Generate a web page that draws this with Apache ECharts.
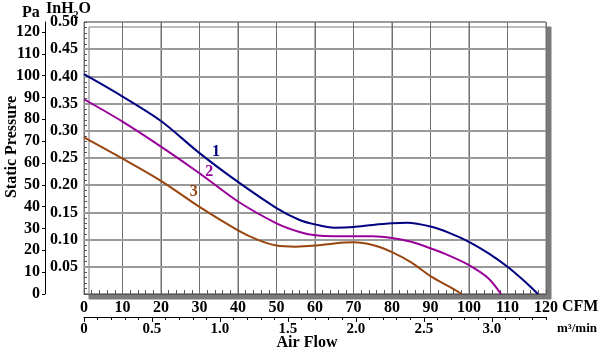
<!DOCTYPE html>
<html>
<head>
<meta charset="utf-8">
<script src="https://cdn.jsdelivr.net/npm/echarts@6/dist/echarts.min.js"></script>
<style>html,body{margin:0;padding:0;background:#fff}#c{width:600px;height:351px}</style>
</head>
<body>
<div id="c"></div>
<script>
// Curve 1 (CFM, inH2O)
const cfm1 = [0, 10, 20, 30, 40, 50, 56, 60, 65, 70, 75, 80, 84, 90, 95, 100, 105, 110, 114, 117.9];
const p1   = [0.404, 0.363, 0.318, 0.259, 0.206, 0.158, 0.136, 0.128, 0.122, 0.123, 0.127, 0.130, 0.131, 0.124, 0.112, 0.096, 0.075, 0.050, 0.026, 0];
// Curve 2
const cfm2 = [0, 10, 20, 30, 40, 50, 56, 60, 65, 70, 75, 80, 85, 90, 95, 100, 105, 108.3];
const p2   = [0.358, 0.317, 0.271, 0.222, 0.170, 0.130, 0.114, 0.108, 0.106, 0.106, 0.106, 0.103, 0.096, 0.084, 0.070, 0.053, 0.029, 0];
// Curve 3
const cfm3 = [0, 10, 20, 30, 40, 45, 50, 55, 60, 65, 70, 75, 80, 85, 90, 95, 98.1];
const p3   = [0.288, 0.249, 0.208, 0.160, 0.117, 0.100, 0.089, 0.087, 0.089, 0.093, 0.095, 0.090, 0.077, 0.058, 0.033, 0.013, 0];
const curveNames = ['1', '2', '3'];
// label anchors (CFM, inH2O)
const labelAt = [[34.3, 0.261], [32.5, 0.224], [28.5, 0.188]];
// tick values used for the inner grid lines
const cfmTicks = [10, 20, 30, 40, 50, 60, 70, 80, 90, 100, 110];
const inTicks = [0.05, 0.10, 0.15, 0.20, 0.25, 0.30, 0.35, 0.40, 0.45];
// axis ranges / steps
const cfmMax = 120, cfmStep = 10, cfmMinor = 2;
const inMax = 0.5, inStep = 0.05, inMinor = 0.01;
const paStep = 10, m3Step = 0.5, m3Minor = 0.1;
const paPerIn = 249.09, m3PerCfm = 0.0283168;

const colors = ['#000080', '#990099', '#99450f'];
const FF = '"Liberation Serif", "Times New Roman", serif';
const pairs = (xs, ys) => xs.map((x, i) => [x, ys[i]]);
const datasets = [pairs(cfm1, p1), pairs(cfm2, p2), pairs(cfm3, p3)];

const chart = echarts.init(document.getElementById('c'), null, {renderer: 'canvas'});
const lbl = (size) => ({fontFamily: FF, fontWeight: 'bold', fontSize: size, color: '#000'});
const noLine = {show: false, onZero: false};
const vStyle = {color: '#707070', width: 1, type: 'solid'};
const hStyle = {color: '#9a9a9a', width: 2, type: 'solid'};

const gridLineSeries = (data, style) => ({
  type: 'line', xAxisIndex: 0, yAxisIndex: 0, data: data, silent: true,
  showSymbol: false, symbol: 'none', z: 1, lineStyle: style, tooltip: {show: false}
});
const vLines = cfmTicks.map(t => gridLineSeries([[t, 0], [t, inMax]], vStyle));
// horizontal grid lines as mark lines at the inH2O tick values
vLines[0].markLine = {
  silent: true, symbol: ['none', 'none'], label: {show: false}, animation: false,
  lineStyle: hStyle,
  data: inTicks.map(t => ({yAxis: t}))
};

chart.setOption({
  animation: false,
  grid: {
    left: 84, top: 22, width: 462, height: 272, z: -1,
    show: true, backgroundColor: '#fff', borderColor: '#777', borderWidth: 1,
    shadowColor: '#7a7a7a', shadowBlur: 0, shadowOffsetX: 5, shadowOffsetY: 5
  },
  xAxis: [
    { // CFM main
      type: 'value', min: 0, max: cfmMax, interval: cfmStep, position: 'bottom',
      axisLine: {show: true, onZero: false, lineStyle: {color: '#555', width: 1}},
      axisTick: {show: false},
      axisLabel: Object.assign({margin: 6}, lbl(16)),
      splitLine: {show: true, lineStyle: vStyle}
    },
    { // m3/min
      type: 'value', min: 0, max: cfmMax * m3PerCfm, interval: m3Step, position: 'bottom', offset: 23,
      axisLine: {show: true, onZero: false, lineStyle: {color: '#000', width: 1}},
      axisTick: {show: true, inside: false, length: 5, lineStyle: {color: '#000'}},
      axisLabel: Object.assign({margin: 5, showMaxLabel: false,
        formatter: v => v === 0 ? '0' : (v > 3.2 ? '' : v.toFixed(1))}, lbl(15)),
      splitLine: {show: false}
    },
    { // CFM minor ticks
      type: 'value', min: 0, max: cfmMax, interval: cfmMinor, position: 'bottom',
      axisLine: noLine, axisLabel: {show: false}, splitLine: {show: false},
      axisTick: {show: true, inside: true, length: 4, lineStyle: {color: '#555'}}
    },
    { // m3/min minor ticks
      type: 'value', min: 0, max: cfmMax * m3PerCfm, interval: m3Minor, position: 'bottom', offset: 23,
      axisLine: noLine, axisLabel: {show: false}, splitLine: {show: false},
      axisTick: {show: true, inside: false, length: 3, lineStyle: {color: '#000'}}
    }
  ],
  yAxis: [
    { // inH2O main
      type: 'value', min: 0, max: inMax, interval: inStep, position: 'left',
      axisLine: {show: true, onZero: false, lineStyle: {color: '#777'}},
      axisTick: {show: false},
      axisLabel: Object.assign({margin: 6, formatter: v => v === 0 ? '' : v.toFixed(2)}, lbl(16)),
      splitLine: {show: true, lineStyle: hStyle}
    },
    { // Pa
      type: 'value', min: 0, max: inMax * paPerIn, interval: paStep, position: 'left', offset: 39,
      axisLine: {show: true, onZero: false, lineStyle: {color: '#000'}},
      axisTick: {show: true, inside: false, length: 3, lineStyle: {color: '#000'}},
      axisLabel: Object.assign({margin: 5, showMaxLabel: false,
        formatter: v => v > 121 ? '' : String(Math.round(v))}, lbl(16)),
      splitLine: {show: false}
    },
    { // inH2O minor ticks
      type: 'value', min: 0, max: inMax, interval: inMinor, position: 'left',
      axisLine: noLine, axisLabel: {show: false}, splitLine: {show: false},
      axisTick: {show: true, inside: true, length: 3, lineStyle: {color: '#555'}}
    }
  ],
  series: vLines.concat(datasets.map((d, i) => ({
    type: 'line', xAxisIndex: 0, yAxisIndex: 0, data: d, smooth: 0.3,
    showSymbol: false, symbol: 'none', clip: false, z: 5,
    lineStyle: {color: colors[i], width: 2},
    markPoint: {
      symbol: 'circle', symbolSize: 0, silent: true,
      data: [{coord: labelAt[i]}],
      label: {show: true, position: 'inside', formatter: curveNames[i],
        fontFamily: FF, fontWeight: 'bold', fontSize: 16, color: colors[i]}
    }
  }))),
  graphic: [
    {type: 'text', left: 22, top: 5, style: Object.assign({text: 'Pa'}, lbl(16))},
    {type: 'text', left: 46, top: 1, style: {
      text: '{a|InH}{s|2}{a|O}',
      rich: {
        a: {fontFamily: FF, fontWeight: 'bold', fontSize: 16, color: '#000'},
        s: {fontFamily: FF, fontWeight: 'bold', fontSize: 10, color: '#000', padding: [13, 0, 0, 0]}
      }
    }},
    {type: 'text', x: 12, y: 147, rotation: Math.PI / 2,
      style: Object.assign({text: 'Static Pressure', align: 'center', verticalAlign: 'middle'}, lbl(16))},
    {type: 'text', x: 307, y: 343,
      style: Object.assign({text: 'Air Flow', align: 'center', verticalAlign: 'middle'}, lbl(16))},
    {type: 'text', x: 562, y: 307,
      style: Object.assign({text: 'CFM', align: 'left', verticalAlign: 'middle'}, lbl(16))},
    {type: 'text', x: 557, y: 329,
      style: Object.assign({text: 'm³/min', align: 'left', verticalAlign: 'middle'}, lbl(13))}
  ]
});
</script>
</body>
</html>
